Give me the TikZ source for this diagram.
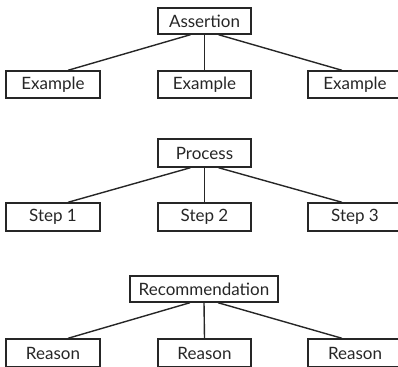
\documentclass[tikz,border=0pt]{standalone}
\usepackage{fontspec}
\setmainfont{Lato}
\usetikzlibrary{calc}
\begin{document}
\begin{tikzpicture}[x=1pt,y=-1pt,
  box/.style={draw=black!85,line width=1.4pt,minimum height=27pt,inner sep=0pt,font=\fontsize{17}{19}\selectfont,text=black!85},
  link/.style={draw=black!85,line width=1.4pt}]
\useasboundingbox (0,0) rectangle (398,366);
% group 1
\node[box,minimum width=93pt,minimum height=26pt] (a) at (204.5,21) {Assertion};
\node[box,minimum width=94pt] (a1) at (53,84.5) {Example};
\node[box,minimum width=93pt] (a2) at (204.5,84.5) {Example};
\node[box,minimum width=94pt] (a3) at (355,84.5) {Example};
\draw[link] ($(a.south)+(-14,0)$) -- ($(a1.north)+(15,0)$);
\draw[link] (a.south) -- (a2.north);
\draw[link] ($(a.south)+(14,0)$) -- ($(a3.north)+(-13,0)$);
% group 2
\node[box,minimum width=93pt,minimum height=28pt] (p) at (204.5,153) {Process};
\node[box,minimum width=94pt,minimum height=28pt] (p1) at (53,217) {Step 1};
\node[box,minimum width=93pt,minimum height=28pt] (p2) at (204.5,217) {Step 2};
\node[box,minimum width=94pt,minimum height=28pt] (p3) at (355,217) {Step 3};
\draw[link] ($(p.south)+(-14,0)$) -- ($(p1.north)+(15,0)$);
\draw[link] (p.south) -- (p2.north);
\draw[link] ($(p.south)+(14,0)$) -- ($(p3.north)+(-13,0)$);
% group 3
\node[box,minimum width=148pt,minimum height=26pt] (r) at (204,289) {Recommendation};
\node[box,minimum width=94pt,minimum height=28pt] (r1) at (53,353) {Reason};
\node[box,minimum width=93pt,minimum height=28pt] (r2) at (204.5,353) {Reason};
\node[box,minimum width=94pt,minimum height=28pt] (r3) at (355,353) {Reason};
\draw[link] ($(r.south)+(-14,0)$) -- ($(r1.north)+(15,0)$);
\draw[link] (r.south) -- (r2.north);
\draw[link] ($(r.south)+(14,0)$) -- ($(r3.north)+(-13,0)$);
\end{tikzpicture}
\end{document}
